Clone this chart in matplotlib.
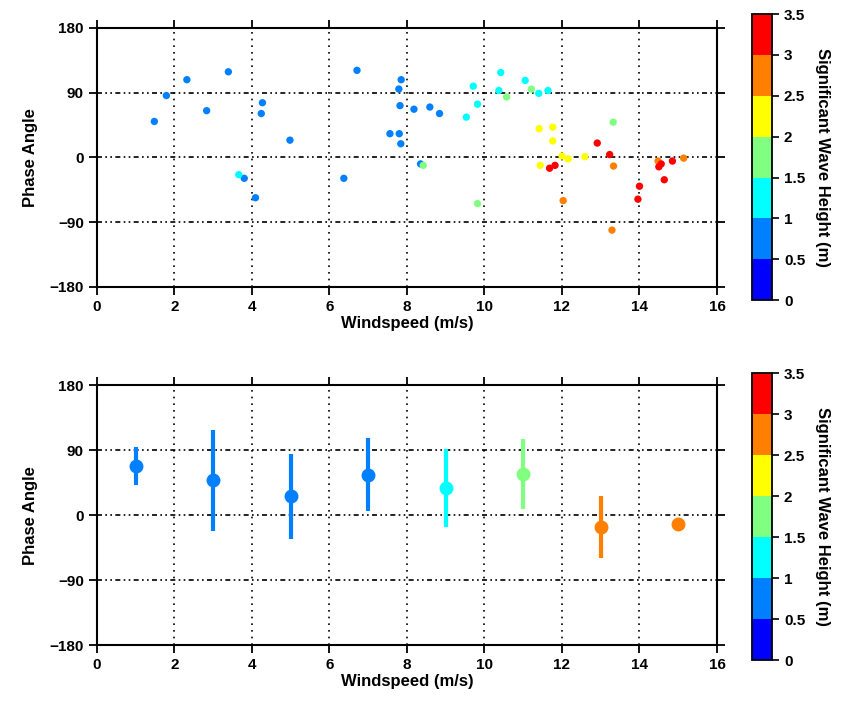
import numpy as np
import matplotlib
matplotlib.use("Agg")
import matplotlib.pyplot as plt
from matplotlib.colors import ListedColormap, BoundaryNorm

plt.rcParams['font.family'] = ['Liberation Sans', 'DejaVu Sans']
plt.rcParams['font.weight'] = 'bold'
plt.rcParams['axes.unicode_minus'] = False

# individual observations: windspeed, phase angle, significant wave height
wind = [1.48, 1.79, 2.32, 2.83, 3.39, 3.80, 4.09, 4.27, 4.24, 4.98,
        6.37, 6.71, 7.85, 7.79, 7.82, 8.18, 7.56, 7.80, 7.84, 8.59,
        8.84, 8.35,
        3.66, 9.53, 9.71, 9.82, 10.42, 10.37, 11.05, 11.40, 11.64,
        8.42, 9.82, 10.57, 11.21, 13.32,
        11.41, 11.76, 11.76, 11.44, 12.00, 12.16, 12.59,
        12.03, 13.33, 13.29, 14.48, 15.14,
        11.68, 11.82, 12.91, 13.23, 14.00, 13.96, 14.50, 14.56, 14.64, 14.85]
phase = [50, 86, 108, 65, 119, -29, -56, 76, 61, 24,
         -29, 121, 108, 95, 72, 67, 33, 33, 19, 70,
         61, -9,
         -24, 56, 99, 74, 118, 93, 107, 89, 93,
         -11, -64, 84, 95, 49,
         40, 42, 23, -11, 2, -2, 1,
         -60, -12, -101, -5, -1,
         -15, -11, 20, 4, -40, -58, -13, -9, -31, -5]
hs = [0.62, 0.71, 0.66, 0.83, 0.77, 0.91, 0.74, 0.68, 0.86, 0.79,
      0.88, 0.72, 0.93, 0.81, 0.76, 0.95, 0.69, 0.84, 0.92, 0.87,
      0.97, 0.98,
      1.05, 1.12, 1.28, 1.34, 1.21, 1.41, 1.18, 1.46, 1.37,
      1.55, 1.62, 1.78, 1.69, 1.85,
      2.11, 2.24, 2.31, 2.06, 2.42, 2.18, 2.37,
      2.65, 2.88, 2.72, 2.57, 2.95,
      3.05, 3.12, 3.21, 3.08, 3.31, 3.17, 3.26, 3.02, 3.38, 3.14]

# binned means (2 m/s bins)
wind_bin = [1, 3, 5, 7, 9, 11, 13, 15]
phase_mean = [68, 48, 26, 56, 38, 57, -17, -12]
phase_std = [26, 70, 59, 51, 54, 49, 43, 0]
hs_bin = [0.8, 0.85, 0.9, 0.95, 1.3, 1.8, 2.8, 2.8]

colors = ['#0000ff', '#0080ff', '#00ffff', '#80ff80', '#ffff00', '#ff8000', '#ff0000']
bounds = [0, 0.5, 1, 1.5, 2, 2.5, 3, 3.5]
cmap = ListedColormap(colors)
norm = BoundaryNorm(bounds, cmap.N)

fig = plt.figure(figsize=(8.47, 7.06), dpi=100)
ax1 = fig.add_axes([0.1145, 0.5935, 0.732, 0.367])
ax2 = fig.add_axes([0.1145, 0.0864, 0.732, 0.368])
cax1 = fig.add_axes([0.888, 0.575, 0.0236, 0.405])
cax2 = fig.add_axes([0.888, 0.065, 0.0236, 0.4065])

sc = ax1.scatter(wind, phase, c=hs, cmap=cmap, norm=norm, s=28, edgecolors='none', zorder=3)

for x, y, e, h in zip(wind_bin, phase_mean, phase_std, hs_bin):
    col = cmap(norm(h))
    ax2.errorbar(x, y, yerr=e if e > 0 else None, fmt='o', color=col, ms=9,
                 elinewidth=3, capsize=0, zorder=3)

for ax in (ax1, ax2):
    ax.set_xlim(0, 16)
    ax.set_ylim(-180, 180)
    ax.set_xticks(range(0, 17, 2))
    ax.set_yticks([-180, -90, 0, 90, 180])
    ax.set_yticklabels(['\u2212180', '\u221290', '0', '90', '180'])
    ax.tick_params(direction='out', length=6, width=1.3, top=True, right=True,
                   labelsize=11)
    for s in ax.spines.values():
        s.set_linewidth(1.5)
    for v in range(2, 16, 2):
        ax.axvline(v, color='black', lw=1.2, linestyle=(0, (1, 3)), zorder=1)
    for h in (-90, 0, 90):
        ax.axhline(h, color='black', lw=1.2, linestyle=(0, (3, 2, 1, 2, 1, 2)), zorder=1)
    ax.set_xlabel('Windspeed (m/s)', fontsize=12, fontweight='bold', labelpad=1)
    ax.set_ylabel('Phase Angle', fontsize=12, fontweight='bold', labelpad=8)

for cax in (cax1, cax2):
    cb = fig.colorbar(sc, cax=cax, ticks=bounds)
    cb.set_ticklabels(['0', '0.5', '1', '1.5', '2', '2.5', '3', '3.5'])
    cb.ax.tick_params(direction='out', length=5, width=1.2, labelsize=11)
    cb.outline.set_linewidth(1.3)
    cb.ax.set_ylabel('Significant Wave Height (m)', fontsize=12, fontweight='bold',
                     rotation=-90, va='bottom', labelpad=7)

fig.savefig('out.png', dpi=100)
